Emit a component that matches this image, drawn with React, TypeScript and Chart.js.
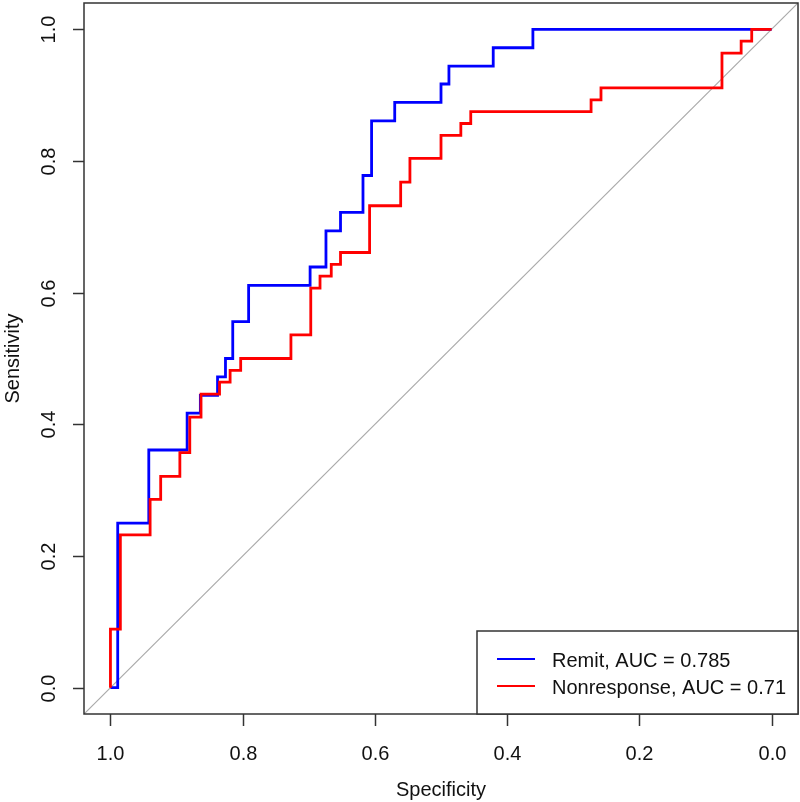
import { useEffect, useRef } from 'react';
import { Chart, registerables } from 'chart.js';

Chart.register(...registerables);

// ---- data ----
const xTickValues = [1.0, 0.8, 0.6, 0.4, 0.2, 0.0];
const xTickLabels = ['1.0', '0.8', '0.6', '0.4', '0.2', '0.0'];
const yTickValues = [0.0, 0.2, 0.4, 0.6, 0.8, 1.0];
const yTickLabels = ['0.0', '0.2', '0.4', '0.6', '0.8', '1.0'];

const seriesLabels = ['Remit, AUC = 0.785', 'Nonresponse, AUC = 0.71'];
const seriesColors = ['#0000ff', '#ff0000'];

const remitSpecificity = [1, 0.989, 0.942, 0.884, 0.864, 0.838, 0.826, 0.815, 0.791, 0.698, 0.674, 0.652, 0.618, 0.605, 0.57, 0.5, 0.488, 0.421, 0.361, 0];
const remitSensitivity = [0, 0.25, 0.361, 0.417, 0.444, 0.472, 0.5, 0.556, 0.611, 0.639, 0.694, 0.722, 0.778, 0.861, 0.889, 0.917, 0.944, 0.972, 1.0, 1.0];

const nonrespSpecificity = [1, 1, 0.985, 0.94, 0.924, 0.895, 0.88, 0.863, 0.835, 0.819, 0.803, 0.727, 0.697, 0.683, 0.666, 0.652, 0.608, 0.561, 0.547, 0.5, 0.47, 0.455, 0.273, 0.258, 0.075, 0.046, 0.03, 0];
const nonrespSensitivity = [0, 0.089, 0.232, 0.286, 0.321, 0.357, 0.411, 0.446, 0.464, 0.482, 0.5, 0.536, 0.607, 0.625, 0.643, 0.661, 0.732, 0.768, 0.804, 0.839, 0.857, 0.875, 0.893, 0.911, 0.964, 0.982, 1.0, 1.0];

const axisMin = -0.04;
const axisMax = 1.04;
const diagonalX = [axisMax, axisMin];
const diagonalY = [axisMin, axisMax];

const FONT = '"Liberation Sans", Arial, Helvetica, sans-serif';

export default function App() {
  const ref = useRef<HTMLCanvasElement>(null);

  useEffect(() => {
    document.body.style.margin = '0';
    const canvas = ref.current;
    if (!canvas) return;

    const toPoints = (xs: number[], ys: number[]) => xs.map((x, i) => ({ x, y: ys[i] }));

    const overlay = {
      id: 'rBaseOverlay',
      afterDraw(chart: any) {
        const { ctx, chartArea: a, scales } = chart;
        const xs = scales.x;
        const ys = scales.y;
        ctx.save();
        // plot box
        ctx.strokeStyle = '#333333';
        ctx.lineWidth = 1.5;
        ctx.strokeRect(a.left, a.top, a.right - a.left, a.bottom - a.top);

        // x axis ticks + labels
        ctx.fillStyle = '#111111';
        ctx.font = `20px ${FONT}`;
        ctx.textAlign = 'center';
        ctx.textBaseline = 'alphabetic';
        xTickValues.forEach((v, i) => {
          const px = Math.round(xs.getPixelForValue(v)) + 0.5;
          ctx.beginPath();
          ctx.moveTo(px, a.bottom);
          ctx.lineTo(px, a.bottom + 12);
          ctx.stroke();
          ctx.fillText(xTickLabels[i], px, a.bottom + 46);
        });

        // y axis ticks + labels (rotated)
        yTickValues.forEach((v, i) => {
          const py = Math.round(ys.getPixelForValue(v)) + 0.5;
          ctx.beginPath();
          ctx.moveTo(a.left, py);
          ctx.lineTo(a.left - 11, py);
          ctx.stroke();
          ctx.save();
          ctx.translate(a.left - 29, py);
          ctx.rotate(-Math.PI / 2);
          ctx.fillText(yTickLabels[i], 0, 0);
          ctx.restore();
        });

        // axis titles
        ctx.fillText('Specificity', (a.left + a.right) / 2, 796);
        ctx.save();
        ctx.translate(19, (a.top + a.bottom) / 2);
        ctx.rotate(-Math.PI / 2);
        ctx.fillText('Sensitivity', 0, 0);
        ctx.restore();

        // legend (bottom-right)
        const lx = 477;
        const ly = 631;
        ctx.fillStyle = '#ffffff';
        ctx.fillRect(lx, ly, a.right - lx, a.bottom - ly);
        ctx.strokeStyle = '#333333';
        ctx.lineWidth = 1.5;
        ctx.strokeRect(lx, ly, a.right - lx, a.bottom - ly);
        ctx.textAlign = 'left';
        seriesLabels.forEach((label, i) => {
          const rowY = 659 + i * 27;
          ctx.strokeStyle = seriesColors[i];
          ctx.lineWidth = 2;
          ctx.beginPath();
          ctx.moveTo(497, rowY);
          ctx.lineTo(535, rowY);
          ctx.stroke();
          ctx.fillStyle = '#111111';
          ctx.fillText(label, 552, rowY + 8);
        });
        ctx.restore();
      },
    };

    const chart = new Chart(canvas, {
      type: 'line',
      data: {
        datasets: [
          {
            label: seriesLabels[1],
            data: toPoints(nonrespSpecificity, nonrespSensitivity),
            borderColor: seriesColors[1],
            borderWidth: 2.8,
            stepped: 'before',
            pointRadius: 0,
            fill: false,
            order: 0,
          },
          {
            label: seriesLabels[0],
            data: toPoints(remitSpecificity, remitSensitivity),
            borderColor: seriesColors[0],
            borderWidth: 2.8,
            stepped: 'before',
            pointRadius: 0,
            fill: false,
            order: 1,
          },
          {
            label: 'diagonal',
            data: toPoints(diagonalX, diagonalY),
            borderColor: '#aaaaaa',
            borderWidth: 1.2,
            pointRadius: 0,
            fill: false,
            order: 2,
          },
        ],
      },
      options: {
        responsive: false,
        animation: false,
        devicePixelRatio: 1,
        layout: { padding: { left: 84, right: 2, top: 3, bottom: 88 } },
        plugins: { legend: { display: false }, tooltip: { enabled: false } },
        scales: {
          x: { type: 'linear', reverse: true, min: axisMin, max: axisMax, display: false },
          y: { type: 'linear', min: axisMin, max: axisMax, display: false },
        },
      },
      plugins: [overlay],
    });

    return () => chart.destroy();
  }, []);

  return <canvas ref={ref} width={800} height={802} style={{ display: 'block' }} />;
}
